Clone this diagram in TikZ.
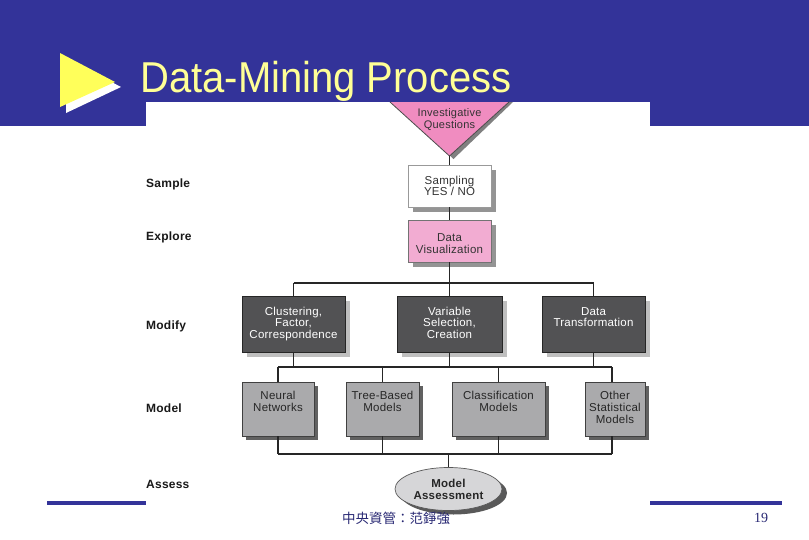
\documentclass[tikz,border=0pt]{standalone}
\usepackage{fontspec}
\setmainfont{Liberation Sans}
\newfontfamily\boxfont[LetterSpace=2]{Liberation Sans}
\newfontfamily\stagefont[LetterSpace=2]{Liberation Sans}
\newfontfamily\cjk{Noto Sans CJK TC}
\newfontfamily\seriffont{Liberation Serif}
\usetikzlibrary{shapes.geometric,shadows}
\definecolor{bandblue}{RGB}{51,51,153}
\definecolor{titleyellow}{RGB}{255,255,150}
\definecolor{bulletyellow}{RGB}{255,255,90}
\definecolor{pinkA}{RGB}{240,140,192}
\definecolor{pinkB}{RGB}{242,172,210}
\definecolor{darkbox}{RGB}{82,82,84}
\definecolor{modelgray}{RGB}{170,170,172}
\definecolor{ellgray}{RGB}{214,214,216}
\definecolor{footblue}{RGB}{40,40,115}
\newcommand\bt[4]{\parbox[c][#1pt][t]{#2pt}{\centering\rule{0pt}{#3pt}#4}}
\begin{document}
\begin{tikzpicture}[x=1pt,y=-1pt,
  conn/.style={draw=black!85, line width=1.2pt},
  boxbase/.style={inner sep=0pt, outer sep=0pt, line width=0.8pt, anchor=north west,
    font=\boxfont\fontsize{11.5}{11.7}\selectfont},
  whitebox/.style={boxbase, fill=white, draw=black!40, text=black!80,
    general shadow={fill=black!42, shadow xshift=5pt, shadow yshift=-5pt}},
  pinkbox/.style={boxbase, fill=pinkB, draw=black!55, text=black!80,
    general shadow={fill=black!42, shadow xshift=5pt, shadow yshift=-5pt}},
  darkbox/.style={boxbase, fill=darkbox, draw=black!85, text=white,
    general shadow={fill=black!25, shadow xshift=5pt, shadow yshift=-5pt}},
  modelbox/.style={boxbase, fill=modelgray, draw=black!75, text=black!85,
    general shadow={fill=black!62, shadow xshift=4pt, shadow yshift=-4pt}},
  stagelabel/.style={font=\stagefont\bfseries\fontsize{12}{12}\selectfont, anchor=base west,
    text=black!90, inner sep=0pt},
  ellnode/.style={ellipse, inner sep=0pt, minimum width=107pt, minimum height=43pt,
    fill=ellgray, draw=black!65, line width=0.7pt, align=center, text=black!85,
    font=\stagefont\bfseries\fontsize{11.5}{12}\selectfont,
    general shadow={fill=black!65, shadow xshift=5pt, shadow yshift=-4pt}}
]
\useasboundingbox (0,0) rectangle (809,539);
% background band and footer line
\fill[bandblue] (0,0) rectangle (809,126);
\fill[bandblue] (47,501) rectangle (782,505);
\fill[white] (146,102) rectangle (650,512);
% title bullet
\fill[white] (66,58) -- (121,87) -- (66,113) -- cycle;
\fill[bulletyellow] (60,53) -- (115,82) -- (60,107) -- cycle;
\node[font=\fontsize{40}{40}\selectfont, text=titleyellow, anchor=base west, inner sep=0pt,
  yscale=1.08] (title) at (140,92) {Data-Mining Process};
% investigative questions triangle
\fill[black!50] (394,102) -- (513,102) -- (453.5,159) -- cycle;
\fill[pinkA] (390,102) -- (509,102) -- (449.5,156) -- cycle;
\draw[black!70, line width=0.8pt] (390,102) -- (449.5,156) -- (509,102);
\coordinate (apex) at (449.5,156);
\node[font=\boxfont\fontsize{11}{12}\selectfont, align=center, text=black!80, inner sep=0pt]
  (iq) at (449.5,119.5) {Investigative\\Questions};
% stage labels
\node[stagelabel] (lsample) at (146,187) {Sample};
\node[stagelabel] (lexplore) at (146,240.5) {Explore};
\node[stagelabel] (lmodify) at (146,329) {Modify};
\node[stagelabel] (lmodel) at (146,412) {Model};
\node[stagelabel] (lassess) at (146,488.5) {Assess};
% sample / explore
\node[whitebox] (samp) at (408,165) {\bt{42}{83}{19}{Sampling\\YES / NO}};
\node[pinkbox] (dv) at (408,220) {\bt{42}{83}{21.3}{Data\\Visualization}};
% modify row
\node[darkbox] (clu) at (242,296) {\bt{56}{103}{19}{Clustering,\\Factor,\\Correspondence}};
\node[darkbox] (var) at (397,296) {\bt{56}{105}{19}{Variable\\Selection,\\Creation}};
\node[darkbox] (dt) at (542,296) {\bt{56}{103}{19}{Data\\Transformation}};
% model row
\node[modelbox] (neu) at (242,382) {\bt{54}{72}{17.7}{Neural\\Networks}};
\node[modelbox] (tree) at (346,382) {\bt{54}{73}{17.7}{Tree-Based\\Models}};
\node[modelbox] (cls) at (452,382) {\bt{54}{93}{17.7}{Classification\\Models}};
\node[modelbox] (oth) at (585,382) {\bt{54}{60}{17.7}{Other\\Statistical\\Models}};
% assess
\node[ellnode] (ell) at (448.5,489) {Model\\Assessment};
% connectors
\coordinate (b1l) at (293.5,283);
\coordinate (b1r) at (593.5,283);
\coordinate (b2l) at (278,367);
\coordinate (b2r) at (612,367);
\coordinate (b3l) at (278,454);
\coordinate (b3r) at (612,454);
\draw[conn] (apex) -- (samp.north);
\draw[conn] (samp.south) -- (dv.north);
\draw[conn] (dv.south) -- (dv.south |- b1l);
\draw[conn] (b1l) -- (b1r);
\draw[conn] (b1l) -- (clu.north);
\draw[conn] (var.north |- b1l) -- (var.north);
\draw[conn] (b1r) -- (dt.north);
\draw[conn] (clu.south) -- (clu.south |- b2l);
\draw[conn] (var.south) -- (var.south |- b2l);
\draw[conn] (dt.south) -- (dt.south |- b2l);
\draw[conn] (b2l) -- (b2r);
\draw[conn] (b2l) -- (neu.north);
\draw[conn] (tree.north |- b2l) -- (tree.north);
\draw[conn] (cls.north |- b2l) -- (cls.north);
\draw[conn] (b2r) -- (b2r |- oth.north);
\draw[conn] (neu.south) -- (b3l);
\draw[conn] (tree.south) -- (tree.south |- b3l);
\draw[conn] (cls.south) -- (cls.south |- b3l);
\draw[conn] (b3r |- oth.south) -- (b3r);
\draw[conn] (b3l) -- (b3r);
\draw[conn] (ell.north |- b3l) -- (ell.north);
% footer
\node[font=\cjk\fontsize{13.5}{14}\selectfont, text=footblue, inner sep=0pt] (foot) at (396,518) {中央資管：范錚強};
\node[font=\seriffont\fontsize{14}{14}\selectfont, text=footblue, inner sep=0pt] (pg) at (761,518) {19};
\end{tikzpicture}
\end{document}
